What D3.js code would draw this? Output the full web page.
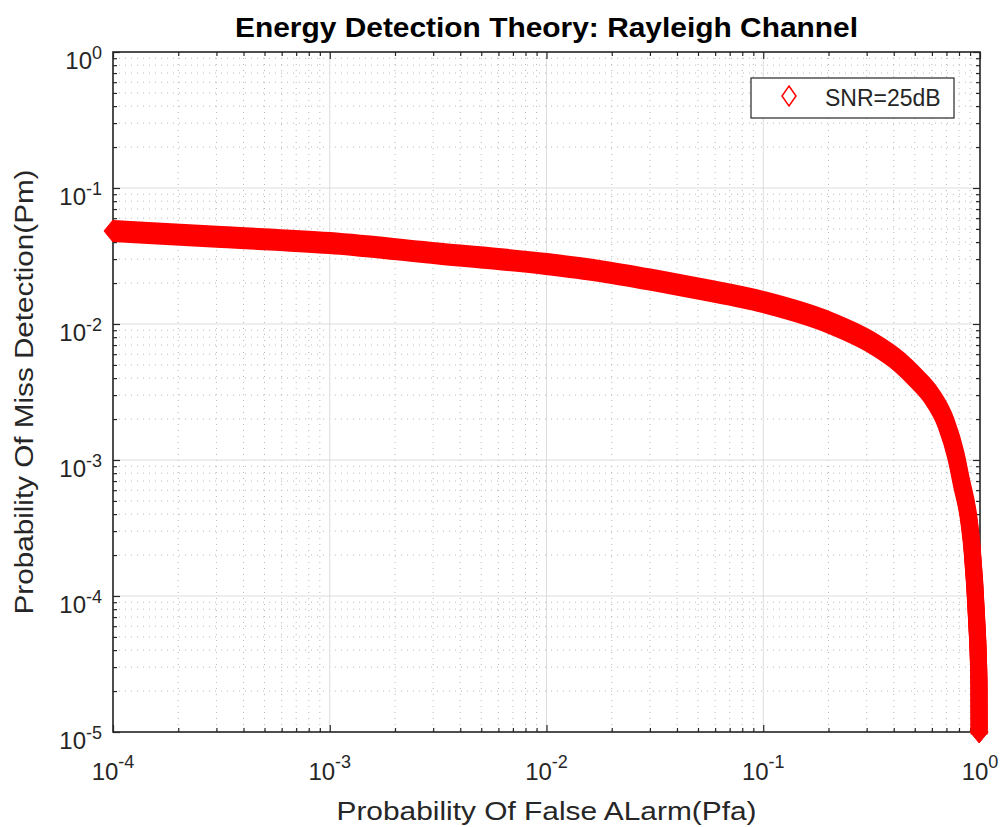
<!DOCTYPE html>
<html>
<head>
<meta charset="utf-8">
<script src="https://cdn.jsdelivr.net/npm/d3@7"></script>
<style>
  body { margin: 0; background: #fff; }
  text { font-family: "Liberation Sans", Arial, sans-serif; }
</style>
</head>
<body>
<div id="chart"></div>
<script>
// values
const pfa = [1e-4, 3.16e-4, 1e-3, 3.16e-3, 1e-2, 0.0177, 0.0316, 0.051, 0.1, 0.203, 0.311, 0.428, 0.507, 0.594, 0.697, 0.775, 0.822, 0.885, 0.92, 0.963, 0.989, 0.991];
const pm  = [0.0483, 0.0436, 0.0394, 0.033, 0.0276, 0.0245, 0.0209, 0.0181, 0.0145, 0.0102, 0.0074, 0.0052, 0.0040, 0.0030, 0.00187, 0.00107, 6.8e-4, 3.8e-4, 2.2e-4, 7.1e-5, 2.3e-5, 1e-5];
const xTicks = [1e-4, 1e-3, 1e-2, 1e-1, 1e0];
const yTicks = [1e-5, 1e-4, 1e-3, 1e-2, 1e-1, 1e0];
const seriesName = "SNR=25dB";

const W = 1003, H = 827;
const m = {left: 113, top: 52, right: 23, bottom: 95};
const iw = W - m.left - m.right, ih = H - m.top - m.bottom;
const ink = "#262626";

const svg = d3.select("#chart").append("svg")
  .attr("width", W).attr("height", H);

const x = d3.scaleLog().domain([1e-4, 1]).range([0, iw]);
const y = d3.scaleLog().domain([1e-5, 1]).range([ih, 0]);

const g = svg.append("g").attr("transform", `translate(${m.left},${m.top})`);

// minor ticks 2..9 per decade
function minors(dom) {
  const out = [];
  const lo = Math.round(Math.log10(dom[0])), hi = Math.round(Math.log10(dom[1]));
  for (let e = lo; e < hi; e++)
    for (let k = 2; k <= 9; k++) out.push(k * Math.pow(10, e));
  return out;
}
const xMinor = minors(x.domain()), yMinor = minors(y.domain());

// minor grid (dotted)
const grid = g.append("g");
grid.selectAll(".xm").data(xMinor).join("line")
  .attr("x1", d => x(d)).attr("x2", d => x(d)).attr("y1", 0).attr("y2", ih)
  .attr("stroke", "#b8b8b8").attr("stroke-width", 1).attr("stroke-dasharray", "1,5");
grid.selectAll(".ym").data(yMinor).join("line")
  .attr("y1", d => y(d)).attr("y2", d => y(d)).attr("x1", 0).attr("x2", iw)
  .attr("stroke", "#b8b8b8").attr("stroke-width", 1).attr("stroke-dasharray", "1,5");
// major grid
grid.selectAll(".xM").data(xTicks).join("line")
  .attr("x1", d => x(d)).attr("x2", d => x(d)).attr("y1", 0).attr("y2", ih)
  .attr("stroke", "#dcdcdc").attr("stroke-width", 1);
grid.selectAll(".yM").data(yTicks).join("line")
  .attr("y1", d => y(d)).attr("y2", d => y(d)).attr("x1", 0).attr("x2", iw)
  .attr("stroke", "#dcdcdc").attr("stroke-width", 1);

// axes with inward ticks on all four sides
function fmt(sel) {
  sel.call(s => s.select(".domain").remove());
  sel.selectAll(".tick line").attr("stroke", ink).attr("stroke-width", 1.2);
  sel.selectAll(".tick text").remove();
}
const axB = g.append("g").attr("transform", `translate(0,${ih})`)
  .call(d3.axisBottom(x).tickValues(xTicks.concat(xMinor)).tickSizeInner(-7).tickSizeOuter(0)).call(fmt);
const axT = g.append("g")
  .call(d3.axisTop(x).tickValues(xTicks.concat(xMinor)).tickSizeInner(-7).tickSizeOuter(0)).call(fmt);
const axL = g.append("g")
  .call(d3.axisLeft(y).tickValues(yTicks.concat(yMinor)).tickSizeInner(-7).tickSizeOuter(0)).call(fmt);
const axR = g.append("g").attr("transform", `translate(${iw},0)`)
  .call(d3.axisRight(y).tickValues(yTicks.concat(yMinor)).tickSizeInner(-7).tickSizeOuter(0)).call(fmt);
// minor ticks shorter
[axB, axT].forEach(a => a.selectAll(".tick").filter(d => !xTicks.includes(d)).select("line")
  .attr("y2", function() { return +d3.select(this).attr("y2") > 0 ? 4 : -4; }));
[axL, axR].forEach(a => a.selectAll(".tick").filter(d => !yTicks.includes(d)).select("line")
  .attr("x2", function() { return +d3.select(this).attr("x2") > 0 ? 4 : -4; }));

// box
g.append("rect").attr("width", iw).attr("height", ih)
  .attr("fill", "none").attr("stroke", ink).attr("stroke-width", 1.6);

// tick labels 10^n
function powLabel(sel, d, up) {
  const e = Math.round(Math.log10(d));
  sel.append("tspan").text("10");
  sel.append("tspan").attr("font-size", 18).attr("dy", -up).text(e === 0 ? "0" : "-" + Math.abs(e));
}
g.selectAll(".xl").data(xTicks).join("text")
  .attr("x", d => x(d)).attr("y", ih + 48)
  .attr("text-anchor", "middle").attr("fill", ink).attr("font-size", 24)
  .each(function(d) { powLabel(d3.select(this), d, 12); });
g.selectAll(".yl").data(yTicks).join("text")
  .attr("x", -11).attr("y", d => y(d) + 17)
  .attr("text-anchor", "end").attr("fill", ink).attr("font-size", 24)
  .each(function(d) { powLabel(d3.select(this), d, 10); });

// titles
svg.append("text").attr("x", m.left + iw / 2).attr("y", 37)
  .attr("text-anchor", "middle").attr("font-weight", "bold").attr("font-size", 27)
  .attr("textLength", 623).attr("lengthAdjust", "spacingAndGlyphs")
  .attr("fill", "#000").text("Energy Detection Theory: Rayleigh Channel");
svg.append("text").attr("x", m.left + iw / 2).attr("y", 820)
  .attr("text-anchor", "middle").attr("font-size", 26).attr("fill", ink)
  .attr("textLength", 420).attr("lengthAdjust", "spacingAndGlyphs")
  .text("Probability Of False ALarm(Pfa)");
svg.append("text").attr("transform", `translate(33,${m.top + ih / 2}) rotate(-90)`)
  .attr("text-anchor", "middle").attr("font-size", 26).attr("fill", ink)
  .attr("textLength", 445).attr("lengthAdjust", "spacingAndGlyphs")
  .text("Probability Of Miss Detection(Pm)");

// data curve: dense diamond markers, drawn as a band (taller than wide, like the diamonds)
const pts = pfa.map((p, i) => [p, pm[i]]);
const line = d3.line().x(d => x(d[0])).y(d => y(d[1])).curve(d3.curveMonotoneX);
const band = g.append("g");
[-2.5, 0, 2.5].forEach(off => {
  band.append("path").datum(pts).attr("d", line)
    .attr("transform", `translate(0,${off})`)
    .attr("fill", "none").attr("stroke", "#ff0000").attr("stroke-width", 17)
    .attr("stroke-linejoin", "round");
});
// diamonds at the two ends give the pointed tips
const diamond = "M0,-11L9,0L0,11L-9,0Z";
band.selectAll(".mk").data([pts[0], pts[pts.length - 1]]).join("path")
  .attr("transform", d => `translate(${x(d[0])},${y(d[1])})`)
  .attr("d", diamond).attr("fill", "#ff0000").attr("stroke", "#ff0000").attr("stroke-width", 1);

// legend
const lg = svg.append("g").attr("transform", "translate(751,78)");
lg.append("rect").attr("width", 203).attr("height", 40)
  .attr("fill", "#fff").attr("stroke", ink).attr("stroke-width", 1.2);
lg.append("path").attr("transform", "translate(38,18)")
  .attr("d", "M0,-10L7,0L0,10L-7,0Z").attr("fill", "none").attr("stroke", "#ff0000").attr("stroke-width", 1.5);
lg.append("text").attr("x", 74).attr("y", 28).attr("font-size", 23).attr("fill", ink).text(seriesName);
</script>
</body>
</html>
